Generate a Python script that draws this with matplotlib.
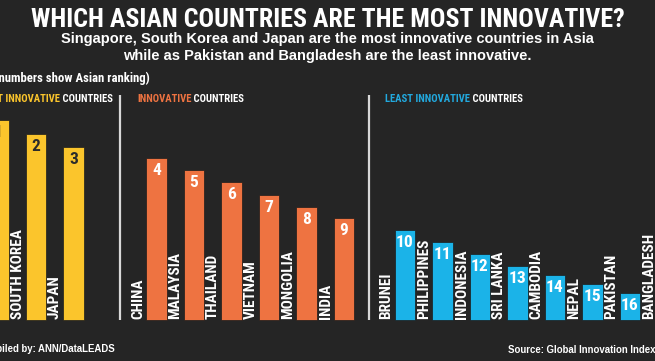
import matplotlib
matplotlib.use("Agg")
import matplotlib.pyplot as plt
from matplotlib import font_manager as fm

# data (bar heights in picture units, ranks as shown)
most_names = ["SINGAPORE", "SOUTH KOREA", "JAPAN"]
most_ranks = [1, 2, 3]
most_vals = [200, 186, 173]

mid_names = ["CHINA", "MALAYSIA", "THAILAND", "VIETNAM", "MONGOLIA", "INDIA"]
mid_ranks = [4, 5, 6, 7, 8, 9]
mid_vals = [162, 150, 138, 125, 113, 102]

least_names = ["BRUNEI", "PHILIPPINES", "INDONESIA", "SRI LANKA", "CAMBODIA",
               "NEPAL", "PAKISTAN", "BANGLADESH"]
least_ranks = [10, 11, 12, 13, 14, 15, 16, 17]
least_vals = [90, 78, 66, 54, 45, 36, 27, 18]

BG = "#252525"
YEL = "#FBC52C"
ORA = "#EE7341"
BLU = "#1BB3E8"

# pick a condensed bold face if one is around
have = set(f.name for f in fm.fontManager.ttflist)
cond = [n for n in ["Roboto Condensed", "Archivo Narrow", "Barlow Condensed",
                    "PT Sans Narrow", "Fira Sans Condensed", "IBM Plex Sans Condensed",
                    "Liberation Sans Narrow"] if n in have]
NARROW = cond[:1] + ["DejaVu Sans"]
BOLD = ["Liberation Sans", "DejaVu Sans"]

fig = plt.figure(figsize=(6.55, 3.61), dpi=100, facecolor=BG)
ax = fig.add_axes([0, 0, 1, 1])
ax.set_facecolor(BG)
ax.set_xlim(0.04, 17.507)
ax.set_ylim(-41, 320)
ax.axis("off")

groups = [
    (most_names, most_ranks, most_vals, YEL, "#2b2b2b", 0.0),
    (mid_names, mid_ranks, mid_vals, ORA, "white", 4.213),
    (least_names, least_ranks, least_vals, BLU, "white", 10.84),
]

for names, ranks, vals, col, numcol, start in groups:
    xs = [start + i for i in range(len(vals))]
    ax.bar(xs, vals, width=0.54, color=col, edgecolor="#1c1c1c", linewidth=0.5)
    for x, v, r, n in zip(xs, vals, ranks, names):
        ax.text(x - 0.49, 1, n, rotation=90, ha="center", va="bottom",
                color="white", fontsize=11, fontweight="bold", family=NARROW)
        ax.text(x, v - 5, str(r), ha="center", va="top", color=numcol,
                fontsize=12.5, fontweight="bold", family=NARROW)
    if start > 0:
        ax.vlines(start - 0.96, 0, 225, color="#d8d8d8", linewidth=1.6)


def fx(px):
    return px / 655.0


def fy(py):
    return 1 - py / 361.0


fig.text(0.5, fy(27), "WHICH ASIAN COUNTRIES ARE THE MOST INNOVATIVE?",
         ha="center", va="baseline", color="white", fontsize=18.6,
         fontweight="bold", family=NARROW)
fig.text(0.5, fy(43), "Singapore, South Korea and Japan are the most innovative countries in Asia",
         ha="center", va="baseline", color="white", fontsize=10.5,
         fontweight="bold", family=BOLD)
fig.text(0.5, fy(60), "while as Pakistan and Bangladesh are the least innovative.",
         ha="center", va="baseline", color="white", fontsize=10.5,
         fontweight="bold", family=BOLD)
fig.text(fx(150), fy(82), "(The numbers show Asian ranking)", ha="right",
         va="baseline", color="white", fontsize=9.2, fontweight="bold", family=NARROW)

HS = 7.7


def header(x, parts):
    # parts: list of (text, colour), drawn side by side
    prev = None
    for txt, c in parts:
        if prev is None:
            prev = fig.text(fx(x), fy(102), txt, ha="left", va="baseline",
                            color=c, fontsize=HS, fontweight="bold", family=NARROW)
        else:
            prev = ax.annotate(txt, xy=(1, 0), xycoords=prev, ha="left",
                               va="bottom", color=c, fontsize=HS,
                               fontweight="bold", family=NARROW)
    return prev


# left header ends at the divider, so draw it right-aligned in two pieces
t2 = fig.text(fx(113), fy(102), " COUNTRIES", ha="right", va="baseline",
              color="white", fontsize=HS, fontweight="bold", family=NARROW)
ax.annotate("MOST INNOVATIVE", xy=(0, 0), xycoords=t2, ha="right", va="bottom",
            color=YEL, fontsize=HS, fontweight="bold", family=NARROW)
header(137, [("INNOVATIVE", ORA), (" COUNTRIES", "white")])
header(385, [("LEAST INNOVATIVE", "#22A9DE"), (" COUNTRIES", "white")])

fig.text(fx(115), fy(352), "Compiled by: ANN/DataLEADS", ha="right",
         va="baseline", color="white", fontsize=6.9, fontweight="bold", family=BOLD)
fig.text(fx(508), fy(352), "Source: Global Innovation Index, 2020", ha="left",
         va="baseline", color="white", fontsize=6.9, fontweight="bold", family=BOLD)

fig.savefig("out.png", dpi=100, facecolor=BG)
